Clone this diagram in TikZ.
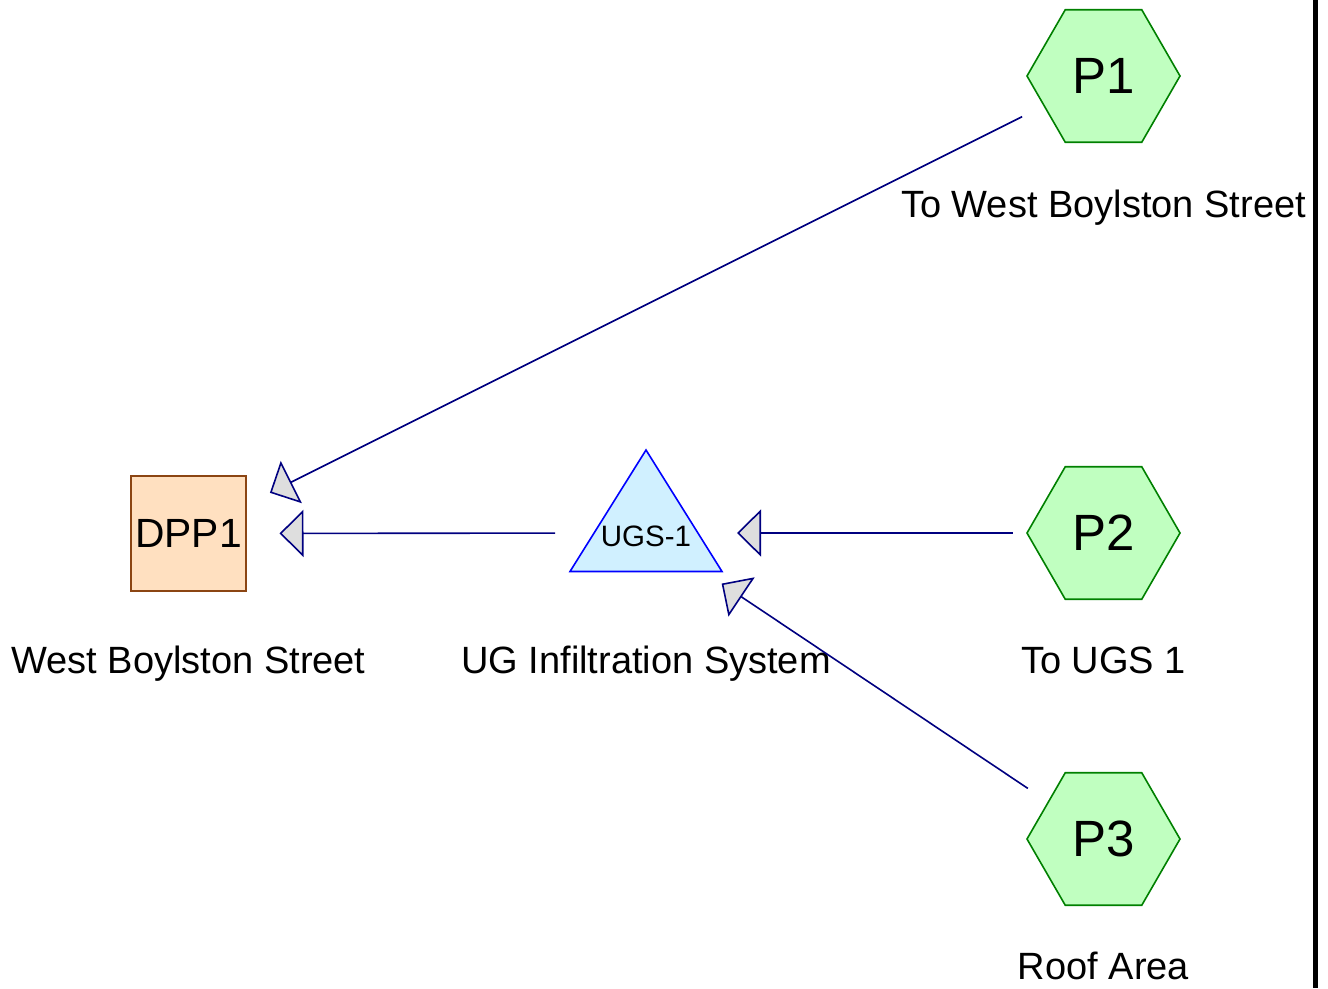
\documentclass[tikz,border=0pt]{standalone}
\usepackage{fontspec}
\setmainfont{Liberation Sans}
\usetikzlibrary{shapes.geometric,arrows.meta}

\definecolor{hexfill}{HTML}{C0FFC0}
\definecolor{hexline}{HTML}{008000}
\definecolor{pondfill}{HTML}{FFE0C0}
\definecolor{pondline}{HTML}{8B4513}
\definecolor{ugsfill}{HTML}{D0F0FF}
\definecolor{ugsline}{HTML}{0000FF}
\definecolor{linknavy}{HTML}{000080}
\definecolor{tipgray}{HTML}{DEDEDE}

\tikzset{
  subcat/.style={regular polygon, regular polygon sides=6, minimum size=153pt,
    inner sep=0pt, fill=hexfill, draw=hexline, line width=1.6pt,
    font=\fontsize{51}{55}\selectfont},
  pondbox/.style={rectangle, minimum size=115pt, inner sep=0pt,
    fill=pondfill, draw=pondline, line width=1.6pt,
    font=\fontsize{40.8}{44}\selectfont},
  ugstext/.style={inner sep=0pt, text height=26pt, text depth=0pt,
    font=\fontsize{29.5}{32}\selectfont},
  caption/.style={anchor=base, inner sep=0pt, font=\fontsize{38}{41}\selectfont},
  flow/.style={draw=linknavy, line width=1.6pt, shorten <=91pt, shorten >=91pt,
    -{Triangle[length=24pt, width=47pt, fill=tipgray]}},
}

\begin{document}
\begin{tikzpicture}[x=1pt, y=-1pt]
  \useasboundingbox (0,0) rectangle (1328,988);

  % underground storage outline
  \draw[fill=ugsfill, draw=ugsline, line width=1.6pt]
    (646,450) -- (722,571.5) -- (570,571.5) -- cycle;

  % nodes
  \node[subcat] (P1) at (1103.5,76) {P1};
  \node[subcat] (P2) at (1103.5,533) {P2};
  \node[subcat] (P3) at (1103.5,839) {P3};
  \node[pondbox] (DPP1) at (188.5,533.5) {DPP1};
  \node[ugstext] (UGS) at (646,533) {UGS-1};

  % captions
  \node[caption] (capP1) at (1103.5,217) {To West Boylston Street};
  \node[caption] (capDPP1) at (188.5,673) {West Boylston Street};
  \node[caption] (capUGS) at (646,673) {UG Infiltration System};
  \node[caption] (capP2) at (1103.5,673) {To UGS 1};
  \node[caption] (capP3) at (1103.5,979) {Roof Area};

  % flow links
  \draw[flow] (P1.center) -- (DPP1.center);
  \draw[flow] (UGS.center) -- (DPP1.center);
  \draw[flow] (P2.center) -- (UGS.center);
  \draw[flow] (P3.center) -- (UGS.center);

  % right border
  \coordinate (borderTop) at (1315.5,0);
  \coordinate (borderBot) at (1315.5,988);
  \draw[line width=4.5pt] (borderTop) -- (borderBot);
\end{tikzpicture}
\end{document}
